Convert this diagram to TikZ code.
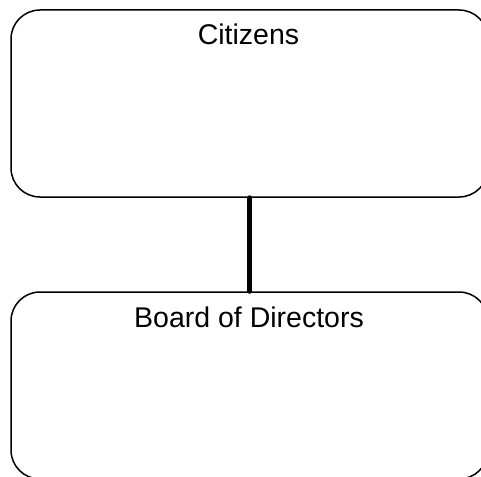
\documentclass[tikz,border=0pt]{standalone}
\usepackage{fontspec}
\setmainfont{Liberation Sans}
\begin{document}
\begin{tikzpicture}[x=1pt,y=-1pt,
  boxstyle/.style={draw=black,line width=1.5pt,rounded corners=29pt,rectangle,inner sep=0pt},
  labelstyle/.style={font=\fontsize{28.5}{33}\selectfont,anchor=base,inner sep=0pt}]
\useasboundingbox (0,0) rectangle (481,476);
\node[boxstyle,minimum width=477pt,minimum height=187pt] (cit) at (249.5,103.5) {};
\node[boxstyle,minimum width=477pt,minimum height=187pt] (bod) at (249.5,385.5) {};
\node[labelstyle] (citl) at (248.5,44.5) {Citizens};
\node[labelstyle] (bodl) at (249,327) {Board of Directors};
\coordinate (c1) at (249.7,197);
\coordinate (c2) at (249.7,292);
\draw[line width=5pt,line cap=round] (cit.south -| c1) -- (bod.north -| c2);
\end{tikzpicture}
\end{document}
